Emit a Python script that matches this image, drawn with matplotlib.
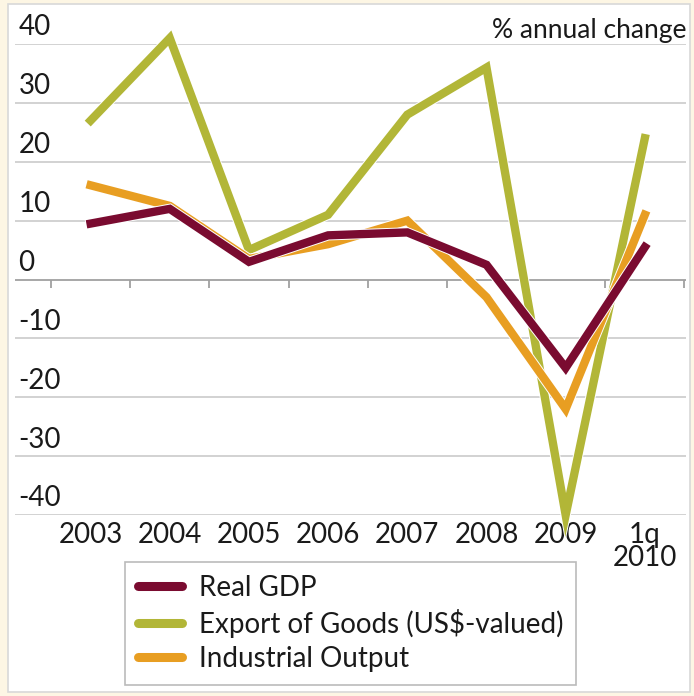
import matplotlib.pyplot as plt
import matplotlib.patheffects as pe
from matplotlib.patches import Rectangle
import matplotlib.transforms as mtransforms
import numpy as np

plt.rcParams['font.family'] = ['Lato', 'DejaVu Sans']

years = ["2003", "2004", "2005", "2006", "2007", "2008", "2009", "1q\n2010"]
real_gdp = [9.5, 12, 3, 7.5, 8, 2.5, -15, 5.5]
exports = [27, 41, 5, 11, 28, 36, -40, 24]
industrial = [16, 12.5, 3.5, 6, 10, -3, -22, 11]
yticks = [-40, -30, -20, -10, 0, 10, 20, 30, 40]

c_gdp = '#7A0B30'
c_exp = '#B2B637'
c_ind = '#E89E22'
c_txt = '#1A1A1A'

W, H = 694, 696
fig = plt.figure(figsize=(W / 100, H / 100), dpi=100)
fig.patch.set_facecolor('#FDF6E4')
# white panel behind everything
panel = Rectangle((8 / W, 4 / H), 682 / W, 688 / H, transform=fig.transFigure,
                  facecolor='white', edgecolor='#D8D8D8', lw=1.2, zorder=-10)
fig.patches.append(panel)

ax = fig.add_axes([15 / W, (H - 515) / H, 671 / W, (515 - 44) / H])
ax.set_facecolor('none')
x = np.arange(len(years))
ax.set_xlim(-0.955, 7.52)
ax.set_ylim(-40, 40)

for s in ax.spines.values():
    s.set_visible(False)

ytrans = mtransforms.blended_transform_factory(ax.transAxes, ax.transData)
for v in yticks:
    ax.axhline(v, color='#A0A0A0' if v == 0 else '#CFCFCF', lw=1.3, zorder=1)
    ax.text(0.005, v + 0.6, str(v), transform=ytrans,
            ha='left', va='bottom', fontsize=20, color=c_txt)
ax.set_yticks([])
# small ticks on the zero line between the years
ax.vlines(np.arange(-0.5, len(years)), 0, -1.5, color='#A0A0A0', lw=1.3, zorder=1)

ax.set_xticks(x, years, fontsize=20, color=c_txt, linespacing=0.85)
ax.tick_params(axis='x', length=0, pad=5)

stroke = [pe.Stroke(linewidth=7.4, foreground='white'), pe.Normal()]
ax.plot(x, exports, color=c_exp, lw=6, solid_joinstyle='miter', clip_on=False, zorder=3,
        label='Export of Goods (US$-valued)', path_effects=stroke)
ax.plot(x, industrial, color=c_ind, lw=6, solid_joinstyle='miter', clip_on=False, zorder=4,
        label='Industrial Output', path_effects=stroke)
ax.plot(x, real_gdp, color=c_gdp, lw=6, solid_joinstyle='miter', clip_on=False, zorder=5,
        label='Real GDP', path_effects=stroke)

ax.text(1.0, 40.25, '% annual change', transform=ytrans,
        ha='right', va='bottom', fontsize=19, color=c_txt)

h, l = ax.get_legend_handles_labels()
order = [2, 0, 1]
leg = fig.legend([h[i] for i in order], [l[i] for i in order], loc='upper left',
                 bbox_to_anchor=(125 / W, 1 - 562 / H), fontsize=20, frameon=True, fancybox=False,
                 edgecolor='#AAAAAA', handlelength=1.6, handletextpad=0.6, labelspacing=0.3,
                 borderpad=0.45, borderaxespad=0)
leg.get_frame().set_linewidth(1.2)
for text in leg.get_texts():
    text.set_color(c_txt)
for line in leg.get_lines():
    line.set_path_effects([])
    line.set_linewidth(6.5)
    line.set_solid_capstyle('round')

fig.savefig('out.png', dpi=100, facecolor=fig.get_facecolor())
